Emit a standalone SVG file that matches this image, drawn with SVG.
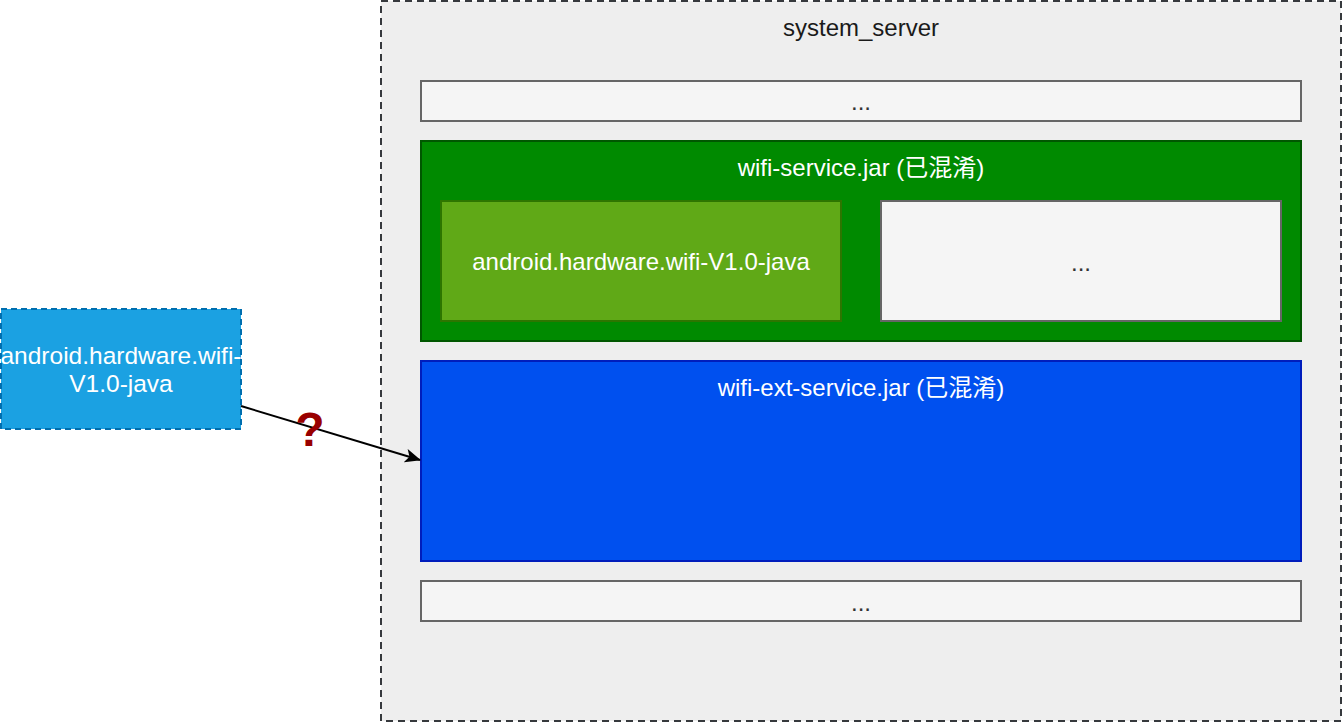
<svg xmlns="http://www.w3.org/2000/svg" width="1342" height="722" viewBox="0 0 1342 722">
<style>
text{font-family:"Liberation Sans","Noto Sans CJK SC",Arial,sans-serif;font-size:24px;text-anchor:middle}
.w{fill:#ffffff}
.d{fill:#333333}
.gray{fill:#f5f5f5;stroke:#666666;stroke-width:2}
</style>
<defs>
<marker id="arr" markerWidth="16" markerHeight="14" viewBox="0 0 16 14" refX="15" refY="7" orient="auto" markerUnits="userSpaceOnUse">
<path d="M0,0 L16,7 L0,14 L4,7 Z" fill="#000000"/>
</marker>
</defs>
<rect width="1342" height="722" fill="#ffffff"/>
<g id="system_server">
<rect x="381" y="1" width="960" height="720" fill="#eeeeee" stroke="#36393d" stroke-width="2" stroke-dasharray="7 5"/>
<text x="861" y="36" fill="#1a1a1a">system_server</text>
</g>
<g id="top-dots">
<rect class="gray" x="421" y="81" width="880" height="40"/>
<text class="d" x="861" y="110">...</text>
</g>
<g id="wifi-service">
<rect x="421" y="141" width="880" height="200" fill="#008a00" stroke="#005700" stroke-width="2"/>
<text class="w" x="861" y="176">wifi-service.jar (已混淆)</text>
</g>
<g id="hal-inner">
<rect x="441" y="201" width="400" height="120" fill="#60a917" stroke="#2d7600" stroke-width="2"/>
<text class="w" x="641" y="270">android.hardware.wifi-V1.0-java</text>
</g>
<g id="inner-dots">
<rect class="gray" x="881" y="201" width="400" height="120"/>
<text class="d" x="1081" y="271">...</text>
</g>
<g id="wifi-ext-service">
<rect x="421" y="361" width="880" height="200" fill="#0050ef" stroke="#001dbc" stroke-width="2"/>
<text class="w" x="861" y="396">wifi-ext-service.jar (已混淆)</text>
</g>
<g id="bottom-dots">
<rect class="gray" x="421" y="581" width="880" height="40"/>
<text class="d" x="861" y="611">...</text>
</g>
<g id="hal-outside">
<rect x="1" y="309" width="240" height="120" fill="#1ba1e2" stroke="#006eaf" stroke-width="2" stroke-dasharray="6 4"/>
<text class="w" x="121" y="364" style="font-size:24.5px">android.hardware.wifi-</text>
<text class="w" x="121" y="392" style="font-size:24.5px">V1.0-java</text>
</g>
<g id="connectors">
<line x1="241" y1="406" x2="420" y2="460" stroke="#000000" stroke-width="2" marker-end="url(#arr)"/>
<text x="310" y="446" style="font-size:48px;font-weight:bold;fill:#990000">?</text>
</g>
</svg>
